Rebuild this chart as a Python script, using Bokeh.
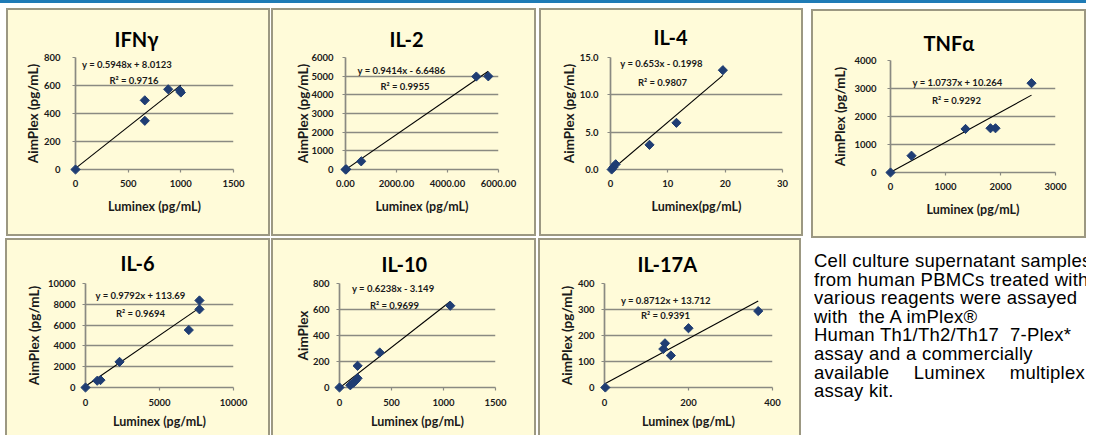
import math
from bokeh.plotting import figure
from bokeh.models import Label, FixedTicker, Spacer, Div, Range1d, Title
from bokeh.layouts import row, column
from bokeh.embed import file_html
from bokeh.resources import INLINE

# ---------------- data ----------------
titles = ["IFNγ", "IL-2", "IL-4", "TNFα", "IL-6", "IL-10", "IL-17A"]

ifng_luminex = [0, 658, 658, 880, 990, 1000]
ifng_aimplex = [0, 494, 348, 573, 565, 550]
il2_luminex = [0, 30, 617, 5130, 5600]
il2_aimplex = [0, 10, 437, 4980, 4990]
il4_luminex = [0.2, 0.5, 0.9, 6.8, 11.5, 19.6]
il4_aimplex = [0.0, 0.3, 0.7, 3.3, 6.25, 13.3]
tnfa_luminex = [0, 382, 1364, 1818, 1909, 2564]
tnfa_aimplex = [0, 600, 1555, 1580, 1580, 3190]
il6_luminex = [0, 790, 1013, 2300, 6980, 7700, 7700]
il6_aimplex = [0, 650, 710, 2464, 5526, 7516, 8370]
il10_luminex = [0, 104, 135, 155, 174, 174, 387, 1065]
il10_aimplex = [0, 17, 37, 53, 71, 167, 269, 629]
il17a_luminex = [2, 140, 144, 158, 200, 366]
il17a_aimplex = [0, 148, 170, 123, 228, 294]

slopes = [0.5948, 0.9414, 0.653, 1.0737, 0.9792, 0.6238, 0.8712]
intercepts = [8.0123, -6.6486, -0.1998, 10.264, 113.69, -3.149, 13.712]
equation_labels = ["y = 0.5948x + 8.0123", "y = 0.9414x - 6.6486", "y = 0.653x - 0.1998",
                   "y = 1.0737x + 10.264", "y = 0.9792x + 113.69", "y = 0.6238x - 3.149",
                   "y = 0.8712x + 13.712"]
r2_labels = ["R² = 0.9716", "R² = 0.9955", "R² = 0.9807", "R² = 0.9292",
             "R² = 0.9694", "R² = 0.9699", "R² = 0.9391"]

x_ranges = [(0, 1500), (0, 6000), (0, 30), (0, 3000), (0, 10000), (0, 1500), (0, 400)]
y_ranges = [(0, 800), (0, 6000), (0, 15), (0, 4000), (0, 10000), (0, 800), (0, 400)]

x_ticks = [[0, 500, 1000, 1500], [0, 2000, 4000, 6000], [0, 10, 20, 30], [0, 1000, 2000, 3000],
           [0, 5000, 10000], [0, 500, 1000, 1500], [0, 200, 400]]
x_tick_labels = [["0", "500", "1000", "1500"], ["0.00", "2000.00", "4000.00", "6000.00"],
                 ["0", "10", "20", "30"], ["0", "1000", "2000", "3000"],
                 ["0", "5000", "10000"], ["0", "500", "1000", "1500"], ["0", "200", "400"]]
y_ticks = [[0, 200, 400, 600, 800], [0, 1000, 2000, 3000, 4000, 5000, 6000], [0, 5, 10, 15],
           [0, 1000, 2000, 3000, 4000], [0, 2000, 4000, 6000, 8000, 10000],
           [0, 200, 400, 600, 800], [0, 100, 200, 300, 400]]
y_tick_labels = [["0", "200", "400", "600", "800"],
                 ["0", "1000", "2000", "3000", "4000", "5000", "6000"],
                 ["0.0", "5.0", "10.0", "15.0"], ["0", "1000", "2000", "3000", "4000"],
                 ["0", "2000", "4000", "6000", "8000", "10000"],
                 ["0", "200", "400", "600", "800"], ["0", "100", "200", "300", "400"]]

x_axis_labels = ["Luminex (pg/mL)", "Luminex (pg/mL)", "Luminex(pg/mL)", "Luminex (pg/mL)",
                 "Luminex (pg/mL)", "Luminex (pg/mL)", "Luminex (pg/mL)"]
y_axis_labels = ["AimPlex (pg/mL)", "AimPlex (pg/mL)", "AimPlex (pg/mL)", "AimPlex (pg/mL)",
                 "AimPlex (pg/mL)", "AimPlex", "AimPlex (pg/mL)"]

caption_lines = ["Cell culture supernatant samples", "from human PBMCs treated with",
                 "various reagents were assayed", "with&nbsp; the A imPlex®",
                 "Human Th1/Th2/Th17&nbsp; 7-Plex*", "assay and a commercially",
                 "available Luminex multiplex", "assay kit."]

series = [(ifng_luminex, ifng_aimplex), (il2_luminex, il2_aimplex), (il4_luminex, il4_aimplex),
          (tnfa_luminex, tnfa_aimplex), (il6_luminex, il6_aimplex), (il10_luminex, il10_aimplex),
          (il17a_luminex, il17a_aimplex)]

# ---------------- styling / geometry (picture pixel coordinates) ----------------
CREAM = "#fffbd9"
BORDER = "#9c9882"
GRID = "#8a8a82"
MARK = "#1f3d73"
FONT = "Lato"
TXT = "#1a1a1a"
TITLE_PX = 20
# approximate advance widths (em) of the bold title font, used to centre titles on panels
EM = {"I": 0.29, "F": 0.53, "N": 0.75, "γ": 0.52, "L": 0.48, "-": 0.37, "T": 0.56,
      "α": 0.58, "A": 0.69}

geom = [
    dict(box=(6, 8, 264, 228), frame=(75, 233, 55, 170), title=(135, 36), eq=(126.5, 62), r2=(133.5, 79), ys=12, als=0, bottom=False),
    dict(box=(271, 8, 265, 228), frame=(345, 498, 55, 169), title=(405.7, 36), eq=(401, 68), r2=(404.5, 85), ys=9, als=-3, bottom=False),
    dict(box=(539, 8, 264, 228), frame=(610, 782, 57, 169), title=(670, 36), eq=(661, 63), r2=(662, 82), ys=9, als=0, bottom=False),
    dict(box=(811, 9, 275, 229), frame=(890, 1055, 60, 172), title=(947, 42), eq=(957, 81.7), r2=(956, 100), ys=11, als=3, bottom=False),
    dict(box=(5, 238, 265, 197), frame=(85, 233, 283, 388), title=(137, 262.5), eq=(140, 295), r2=(140, 313), ys=7, als=3, bottom=True),
    dict(box=(271, 238, 265, 197), frame=(339, 495, 282, 388), title=(404, 262.5), eq=(392.7, 287.3), r2=(394, 304), ys=7, als=-1, bottom=True),
    dict(box=(538, 238, 263, 197), frame=(604, 772, 282, 387), title=(666.7, 262.5), eq=(665.3, 299), r2=(665, 314.3), ys=7, als=0, bottom=True),
]


def make_panel(i):
    g = geom[i]
    xs, ys = series[i]
    xr, yr = x_ranges[i], y_ranges[i]
    ox, oy, W, H = g["box"]
    fx0, fx1, fy0, fy1 = g["frame"]
    fl, fw, ft, fh = fx0 - ox, fx1 - fx0, fy0 - oy, fy1 - fy0
    if g["bottom"]:
        shadow = f"inset 2px 0 0 0 {BORDER}, inset -2px 0 0 0 {BORDER}, inset 0 2px 0 0 {BORDER}"
    else:
        shadow = f"inset 0 0 0 2px {BORDER}"

    tw = sum(EM.get(c, 0.58) for c in titles[i]) * TITLE_PX
    t_off = round(g["title"][0] - tw / 2 - fx0)
    t_stand = max(0, round(2 * (fy0 - g["title"][1]) - (TITLE_PX * 1.2 + 2)))
    title = Title(text=titles[i], align="left", offset=t_off, vertical_align="middle",
                  standoff=t_stand, text_font=FONT, text_font_style="bold",
                  text_font_size=f"{TITLE_PX}px", text_color="black")

    p = figure(width=W, height=H, x_range=Range1d(*xr), y_range=Range1d(*yr),
               min_border_left=fl, min_border_right=W - fl - fw,
               min_border_top=ft, min_border_bottom=H - ft - fh,
               toolbar_location=None, output_backend="svg",
               styles={"background-color": CREAM, "box-shadow": shadow})
    p.title = title
    p.background_fill_alpha = 0
    p.border_fill_alpha = 0
    p.outline_line_color = None

    def to_data(px, py):
        x = xr[0] + (px - fx0) / fw * (xr[1] - xr[0])
        y = yr[1] - (py - fy0) / fh * (yr[1] - yr[0])
        return x, y

    p.xgrid.grid_line_color = None
    p.ygrid.grid_line_color = GRID
    p.ygrid.grid_line_width = 1.7

    for ax in (p.xaxis[0], p.yaxis[0]):
        ax.axis_line_color = GRID
        ax.axis_line_width = 1.7
        ax.major_tick_line_color = GRID
        ax.major_tick_line_width = 1.2
        ax.major_tick_out = 3
        ax.major_tick_in = 0
        ax.minor_tick_line_color = None
        ax.major_label_text_font = FONT
        ax.major_label_text_font_style = "bold"
        ax.major_label_text_font_size = "9.5px"
        ax.major_label_text_color = TXT
        ax.axis_label_text_font = FONT
        ax.axis_label_text_font_style = "bold"
        ax.axis_label_text_color = TXT

    xa, ya = p.xaxis[0], p.yaxis[0]
    xa.ticker = FixedTicker(ticks=x_ticks[i])
    xa.major_label_overrides = {t: l for t, l in zip(x_ticks[i], x_tick_labels[i])}
    xa.axis_label = x_axis_labels[i]
    xa.axis_label_text_font_size = "12.5px"
    xa.major_label_standoff = 7 if not g["bottom"] else 8
    xa.axis_label_standoff = 9 if not g["bottom"] else 5
    ya.ticker = FixedTicker(ticks=y_ticks[i])
    ya.major_label_overrides = {t: l for t, l in zip(y_ticks[i], y_tick_labels[i])}
    ya.axis_label = y_axis_labels[i]
    ya.axis_label_text_font_size = "13.5px"
    ya.major_label_standoff = g["ys"]
    ya.axis_label_standoff = g["als"]

    # trendline over the data's x extent
    x_lo, x_hi = min(xs), max(xs)
    p.line([x_lo, x_hi], [slopes[i] * x_lo + intercepts[i], slopes[i] * x_hi + intercepts[i]],
           line_color="black", line_width=1.1)
    p.scatter(xs, ys, marker="square", angle=math.pi / 4, size=6.5,
              fill_color=MARK, line_color=MARK, level="overlay")

    ex, ey = to_data(*g["eq"])
    p.add_layout(Label(x=ex, y=ey, text=equation_labels[i], text_align="center",
                       text_baseline="middle", text_font=FONT, text_font_style="bold",
                       text_font_size="9.5px", text_color=TXT))
    rx, ry = to_data(*g["r2"])
    p.add_layout(Label(x=rx, y=ry, text=r2_labels[i], text_align="center",
                       text_baseline="middle", text_font=FONT, text_font_style="bold",
                       text_font_size="9.5px", text_color=TXT))
    return p


panels = [make_panel(i) for i in range(7)]
p1, p2, p3, p4, p5, p6, p7 = panels
p1.margin = (0, 0, 0, 6)
p2.margin = (0, 0, 0, 1)
p3.margin = (0, 0, 0, 3)
p5.margin = (0, 0, 0, 5)
p6.margin = (0, 0, 0, 1)
p7.margin = (0, 0, 0, 2)
p4.margin = (1, 0, 0, 0)

line_html = []
for k, ln in enumerate(caption_lines):
    if k == 6:
        line_html.append(f'<div style="width:271px;text-align:justify;text-align-last:justify;white-space:nowrap">{ln}</div>')
    else:
        line_html.append(f'<div style="white-space:nowrap">{ln}</div>')
caption = Div(text='<div style="font-family:\'Liberation Sans\',Arial,sans-serif;font-size:18.5px;'
                   'letter-spacing:0.25px;line-height:18.6px;color:#000;margin:0;padding:0">'
                   + "".join(line_html) + "</div>",
              width=272, height=170, margin=(14, 0, 0, 3), styles={"overflow": "hidden"})

bar = Spacer(width=1086, height=3, margin=(0, 0, 0, 0), styles={"background-color": "#1f7bb6"})
top_row = row(p1, p2, p3)
bot_row = row(p5, p6, p7)
bot_row.margin = (2, 0, 0, 0)
left = column(top_row, bot_row)
right = column(p4, caption)
right.margin = (0, 0, 0, 8)
main = row(left, right)
main.margin = (5, 0, 0, 0)
root = column(bar, main)

open("out.html", "w").write(file_html(root, INLINE))
